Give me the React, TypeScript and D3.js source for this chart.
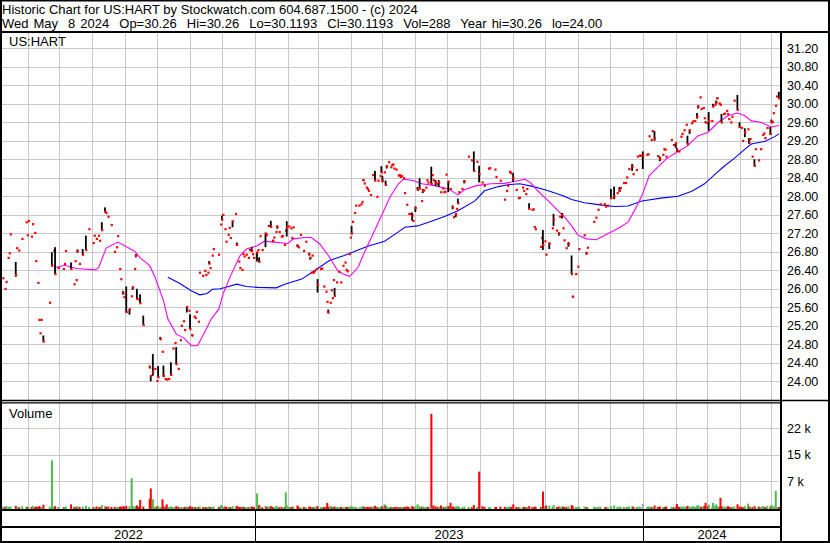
import React from "react";
import * as d3 from "d3";

// day offsets are calendar days after START
const START = new Date(2022, 4, 8);
const END = new Date(2024, 4, 9);

// [day, close, volume, high?, low?]
const trades2022: number[][] = [
  [1, 26.23, 400], [3, 26.0, 300], [4, 26.15, 500], [6, 26.67, 300], [7, 26.77, 200],
  [8, 27.18, 400], [13, 26.3, 600, 26.58, 26.26], [14, 26.88, 300], [16, 26.83, 200],
  [19, 27.08, 500], [23, 27.44, 400], [24, 27.16, 300], [25, 27.47, 200], [28, 27.13, 300],
  [29, 27.4, 600], [31, 27.21, 200], [32, 26.6, 400], [34, 26.13, 300], [35, 25.33, 500],
  [36, 25.04, 300], [37, 25.33, 200], [39, 24.86, 900, 24.99, 24.86], [45, 25.7, 300],
  [47, 26.5, 13100, 26.79, 26.49], [49, 26.82, 400], [50, 26.32, 500, 26.9, 26.32],
  [53, 26.45, 300], [58, 26.43, 200], [59, 26.54, 300], [60, 26.82, 400],
  [65, 26.43, 1000, 26.57, 26.43], [68, 26.1, 300], [69, 26.6, 400], [70, 26.19, 200],
  [71, 26.82, 500, 26.85, 26.78], [73, 26.54, 300], [76, 26.74, 400, 26.86, 26.72],
  [79, 26.84, 600, 27.15, 26.84], [82, 27.29, 300], [86, 26.99, 200], [87, 27.15, 300],
  [89, 27.08, 400], [91, 27.15, 200], [92, 27.04, 300], [94, 27.27, 800, 27.44, 27.27],
  [97, 27.67, 500, 27.76, 27.65], [98, 27.64, 300], [100, 27.56, 400], [103, 27.38, 300],
  [106, 26.8, 300], [108, 26.9, 200], [109, 27.14, 300], [111, 26.43, 400], [112, 26.21, 300],
  [114, 25.9, 500, 25.95, 25.88], [115, 25.82, 300], [117, 25.5, 600, 26.05, 25.49],
  [120, 25.56, 500, 25.56, 25.44], [122, 25.84, 8200], [123, 26.03, 600, 26.05, 25.98],
  [125, 26.43, 300], [126, 26.72, 500, 26.75, 26.68], [127, 25.78, 700, 26.0, 25.78],
  [129, 25.77, 300], [130, 25.69, 2200, 25.88, 25.69], [133, 25.22, 400, 25.42, 25.22],
  [139, 24.3, 2500, 24.34, 24.3], [140, 24.12, 5400, 24.12, 24.0], [142, 24.2, 2400, 24.59, 24.12],
  [144, 24.27, 300], [146, 24.01, 500], [147, 24.09, 400, 24.33, 24.09],
  [149, 24.91, 300, 24.96, 24.91], [151, 24.64, 2400], [152, 24.12, 400, 24.34, 24.09],
  [154, 24.05, 300, 24.07, 24.03], [155, 24.04, 1000], [157, 24.05, 300],
  [159, 24.14, 400, 24.41, 24.14], [161, 24.71, 300], [163, 24.83, 200],
  [164, 24.37, 500, 24.74, 24.37], [166, 24.27, 300], [168, 24.89, 200], [169, 25.2, 300],
  [171, 25.3, 200], [172, 25.11, 300], [174, 25.61, 400, 25.61, 25.49], [176, 25.53, 200],
  [177, 25.13, 500, 25.45, 25.13], [179, 24.99, 300, 25.02, 24.98], [181, 25.4, 200],
  [182, 25.37, 300], [183, 25.5, 200], [185, 25.29, 300], [186, 26.35, 400], [189, 26.28, 200],
  [191, 26.39, 300], [192, 26.3, 200], [194, 26.35, 300], [195, 26.55, 400, 26.6, 26.53],
  [196, 26.45, 200], [198, 26.72, 300], [199, 26.86, 400], [204, 26.74, 300], [206, 27.39, 800],
  [207, 27.5, 600, 27.58, 27.48], [208, 27.6, 300], [210, 27.29, 400], [211, 27.02, 300],
  [213, 27.17, 200], [214, 27.32, 300], [215, 27.1, 200], [217, 27.46, 500, 27.47, 27.33],
  [220, 27.62, 300], [221, 26.95, 600, 27.0, 26.93], [223, 26.59, 300], [224, 26.45, 200],
  [226, 26.41, 300], [227, 26.75, 400], [228, 26.7, 200], [230, 26.74, 300], [232, 26.67, 200],
  [233, 26.84, 300], [235, 26.82, 400, 26.9, 26.8], [236, 26.75, 200], [237, 26.67, 300],
];

const trades2023: number[][] = [
  [240, 26.79, 4000, 26.79, 26.59], [241, 26.84, 300], [242, 26.59, 800, 26.68, 26.57],
  [243, 27.14, 300], [245, 26.84, 200], [248, 27.2, 600, 27.2, 26.9], [249, 27.16, 300],
  [251, 27.36, 400, 27.38, 27.34], [253, 27.34, 500, 27.47, 27.34], [255, 27.04, 300, 27.06, 27.02],
  [256, 27.11, 200], [258, 27.23, 600], [259, 27.34, 400, 27.37, 27.3], [261, 27.23, 200],
  [263, 27.13, 300], [264, 27.14, 200], [266, 26.95, 300], [267, 27.26, 4300],
  [268, 27.33, 700, 27.46, 27.13], [270, 27.35, 300], [272, 27.31, 200], [273, 27.1, 300],
  [274, 27.33, 400], [278, 26.93, 700, 26.96, 26.9], [279, 26.9, 300], [281, 27.17, 200],
  [284, 26.82, 300], [286, 27.02, 200], [289, 26.75, 400, 26.78, 26.72],
  [290, 26.67, 300, 26.69, 26.63], [291, 26.35, 200], [292, 26.72, 300], [293, 26.35, 200],
  [294, 26.38, 300], [296, 26.43, 500], [297, 26.09, 400, 26.21, 25.92], [300, 26.43, 300],
  [301, 26.44, 200], [303, 26.05, 300], [305, 25.94, 200], [306, 25.72, 1400],
  [307, 25.49, 300, 25.55, 25.47], [309, 25.7, 600], [310, 25.97, 200], [311, 25.8, 300],
  [312, 26.19, 200], [313, 25.85, 400, 26.02, 25.85], [315, 26.14, 300], [317, 26.37, 200],
  [319, 26.14, 300], [321, 26.5, 200], [323, 26.57, 300], [324, 26.41, 200], [325, 26.38, 300],
  [327, 26.75, 400], [328, 27.11, 300], [329, 27.2, 500, 27.36, 27.18], [330, 27.45, 300],
  [332, 27.64, 200], [333, 27.8, 300], [336, 27.8, 200], [338, 27.83, 300], [339, 27.88, 400],
  [340, 28.35, 500, 28.37, 28.33], [341, 28.28, 300], [343, 28.19, 200], [344, 28.16, 300],
  [345, 28.12, 200], [347, 28.03, 300], [349, 28.46, 400], [351, 28.34, 600, 28.55, 28.34],
  [353, 27.99, 300], [354, 28.34, 200], [356, 28.44, 300], [357, 28.52, 500, 28.65, 28.52],
  [358, 28.34, 400, 28.44, 28.3], [360, 28.52, 1000], [361, 28.25, 600, 28.34, 28.23],
  [362, 28.65, 300, 28.67, 28.6], [364, 28.74, 200], [366, 28.63, 300], [367, 28.68, 200],
  [368, 28.69, 300], [369, 28.6, 200], [371, 28.58, 300], [373, 28.45, 200], [374, 28.46, 300],
  [375, 28.42, 200], [376, 28.44, 300], [378, 28.4, 200], [379, 28.07, 300], [381, 27.82, 400],
  [383, 27.62, 300], [384, 27.62, 200], [386, 27.58, 500, 27.65, 27.47], [387, 27.47, 300],
  [389, 27.75, 400, 27.78, 27.66], [391, 28.14, 1000, 28.2, 28.14], [393, 28.17, 500, 28.39, 28.15],
  [395, 27.9, 300], [396, 28.12, 400, 28.16, 28.07], [397, 28.13, 200], [399, 28.19, 300],
  [400, 28.35, 200], [401, 28.3, 300], [404, 28.27, 25900, 28.64, 28.27], [405, 28.46, 300],
  [406, 28.35, 700], [408, 28.3, 400, 28.35, 28.22], [410, 28.27, 300], [411, 28.3, 400, 28.35, 28.2],
  [413, 28.09, 700], [415, 28.17, 300], [416, 28.09, 200], [417, 28.1, 300], [418, 28.47, 400],
  [420, 28.32, 500, 28.32, 28.09], [422, 28.16, 1400], [424, 27.76, 400, 27.8, 27.72],
  [425, 27.55, 300], [427, 27.62, 400, 27.62, 27.55], [428, 27.73, 300],
  [429, 27.85, 500, 27.95, 27.85], [430, 28.09, 300], [433, 28.16, 200],
  [435, 28.32, 400, 28.35, 28.28], [439, 28.86, 300], [442, 28.78, 200],
  [444, 28.55, 800, 28.97, 28.55], [447, 28.75, 300], [449, 28.48, 10000, 28.66, 28.3],
  [452, 28.3, 500], [454, 28.23, 300], [458, 28.6, 200], [459, 28.61, 300], [464, 28.58, 200],
  [465, 28.42, 300], [469, 28.34, 400], [473, 27.93, 300], [475, 28.12, 200], [476, 28.23, 300],
  [478, 28.53, 400, 28.55, 28.5], [479, 28.5, 200], [481, 28.39, 1000, 28.5, 28.31],
  [484, 28.14, 300], [486, 27.96, 200], [487, 27.97, 300], [490, 28.19, 200], [491, 28.12, 300],
  [493, 28.05, 200], [494, 28.16, 300], [496, 27.73, 500, 27.85, 27.73], [499, 27.71, 300],
  [500, 27.72, 200], [501, 27.34, 300], [502, 27.29, 400], [507, 26.91, 300], [508, 27.1, 200],
  [509, 26.95, 4500, 27.27, 26.84], [511, 27.03, 400], [512, 26.74, 700],
  [515, 26.98, 600, 27.0, 26.86], [518, 27.31, 300], [519, 27.5, 800, 27.62, 27.36],
  [522, 27.26, 300], [524, 27.2, 400, 27.22, 27.15], [525, 27.56, 200],
  [527, 27.6, 500, 27.64, 27.52], [528, 27.31, 300], [529, 27.05, 200], [531, 26.88, 300],
  [533, 26.97, 400, 27.01, 26.91], [536, 26.32, 800, 26.72, 26.32], [537, 25.83, 500, 25.85, 25.82],
  [540, 26.32, 300], [542, 26.48, 200], [543, 26.86, 300], [548, 27.16, 400],
  [550, 26.77, 300, 26.8, 26.74], [551, 26.89, 200], [557, 27.45, 300], [559, 27.54, 200],
  [561, 27.71, 300], [563, 27.83, 400], [567, 27.83, 200], [568, 27.78, 300], [570, 27.8, 200],
  [573, 27.96, 400, 28.16, 27.96], [576, 28.0, 700, 28.21, 27.94], [579, 28.07, 300],
  [581, 28.12, 400, 28.2, 28.1], [582, 28.18, 200], [585, 28.29, 300], [587, 28.29, 200],
  [588, 28.41, 300], [590, 28.59, 400], [593, 28.65, 500, 28.7, 28.55], [594, 28.48, 300],
  [597, 28.57, 200], [598, 28.86, 300], [600, 28.88, 400], [601, 28.88, 200],
];

const trades2024: number[][] = [
  [603, 28.88, 1100, 28.97, 28.59], [607, 28.9, 300], [608, 28.91, 200], [609, 29.3, 400],
  [611, 29.22, 300], [612, 29.41, 200], [614, 29.25, 700, 29.41, 29.2], [617, 28.87, 300],
  [619, 28.81, 400, 28.86, 28.76], [622, 28.9, 300], [623, 29.02, 200], [624, 29.01, 300],
  [625, 28.86, 400], [630, 29.22, 300], [632, 29.11, 200], [634, 29.15, 400, 29.15, 29.05],
  [635, 29.0, 1100, 29.05, 28.96], [637, 28.97, 300], [639, 29.29, 400], [640, 29.35, 300],
  [642, 29.43, 500], [644, 29.55, 300], [645, 29.13, 600, 29.31, 29.13],
  [647, 29.43, 400, 29.44, 29.35], [649, 29.58, 300], [650, 29.62, 500], [652, 29.63, 300],
  [654, 29.72, 600, 29.8, 29.68], [655, 29.94, 800, 29.97, 29.9], [657, 30.14, 400],
  [658, 29.89, 300], [660, 29.91, 500], [661, 29.69, 600], [662, 29.6, 1400, 29.62, 29.58],
  [664, 29.58, 500], [665, 29.63, 900, 29.82, 29.42], [668, 29.63, 400],
  [669, 29.94, 1400, 30.0, 29.94], [671, 29.98, 600], [672, 30.03, 1000, 30.07, 30.0],
  [673, 30.12, 500, 30.14, 30.1], [675, 30.01, 300], [676, 29.98, 2800],
  [677, 29.6, 500, 29.78, 29.6], [679, 29.78, 300], [680, 29.79, 400], [682, 29.85, 300],
  [683, 29.78, 500], [684, 29.67, 300], [686, 29.6, 200], [687, 29.72, 300], [689, 30.07, 400],
  [692, 29.87, 1000, 30.19, 29.87], [694, 29.5, 400, 29.6, 29.48], [696, 29.48, 300],
  [697, 29.2, 200], [699, 29.38, 500, 29.47, 29.28], [702, 29.45, 1200],
  [703, 29.17, 400, 29.26, 29.13], [704, 29.24, 300], [706, 28.86, 200],
  [708, 28.66, 500, 28.8, 28.66], [709, 29.02, 300], [712, 28.78, 400], [714, 29.02, 300],
  [716, 29.33, 500], [717, 29.36, 300], [718, 29.26, 200], [720, 29.48, 600],
  [723, 29.35, 400, 29.5, 29.33], [724, 29.6, 800, 29.66, 29.6], [725, 29.61, 300],
  [726, 29.8, 500], [728, 29.96, 4700], [729, 30.16, 300], [731, 30.12, 288, 30.26, 30.12],
];

// moving averages: [day, value]
const maShort: number[][] = [
  [50, 26.46], [59, 26.51], [70, 26.44], [88, 26.41], [91, 26.46], [98, 26.88], [109, 27.01],
  [117, 26.91], [125, 26.81], [130, 26.67], [139, 26.5], [144, 26.25], [152, 25.74], [156, 25.35],
  [164, 25.02], [171, 24.94], [178, 24.77], [184, 24.77], [189, 24.99], [197, 25.35], [204, 25.56],
  [208, 25.89], [215, 26.28], [224, 26.72], [230, 26.86], [240, 26.93], [247, 27.03], [255, 27.01],
  [269, 26.98], [274, 27.08], [285, 27.11], [291, 27.11], [299, 26.97], [307, 26.72], [316, 26.39],
  [321, 26.32], [327, 26.27], [335, 26.46], [341, 26.79], [349, 27.18], [357, 27.58], [365, 27.98],
  [373, 28.27], [378, 28.37], [387, 28.34], [395, 28.27], [407, 28.23], [420, 28.16], [429, 28.03],
  [435, 28.14], [446, 28.23], [460, 28.27], [473, 28.28], [482, 28.32], [492, 28.37], [498, 28.28],
  [504, 28.12], [514, 27.9], [523, 27.69], [529, 27.56], [536, 27.36], [542, 27.16], [550, 27.08],
  [559, 27.06], [569, 27.18], [580, 27.31], [589, 27.44], [595, 27.69], [602, 28.01], [609, 28.45],
  [617, 28.63], [625, 28.81], [636, 28.97], [645, 29.09], [655, 29.31], [664, 29.38], [674, 29.6],
  [683, 29.74], [692, 29.8], [699, 29.74], [705, 29.63], [714, 29.6], [724, 29.5], [731, 29.53],
];

const maLong: number[][] = [
  [156, 26.25], [167, 26.12], [178, 25.96], [186, 25.87], [193, 25.9], [198, 25.99], [205, 26.0],
  [210, 26.03], [221, 26.1], [230, 26.05], [241, 26.03], [258, 26.02], [266, 26.1], [282, 26.21],
  [294, 26.39], [308, 26.61], [322, 26.72], [344, 26.92], [360, 27.03], [373, 27.23], [379, 27.33],
  [391, 27.36], [404, 27.46], [417, 27.57], [429, 27.69], [445, 27.9], [454, 28.12], [467, 28.21],
  [476, 28.25], [487, 28.27], [498, 28.22], [511, 28.14], [526, 28.03], [536, 27.93], [548, 27.86],
  [561, 27.82], [576, 27.78], [589, 27.79], [602, 27.9], [620, 27.96], [636, 28.0], [649, 28.11],
  [661, 28.27], [671, 28.48], [680, 28.66], [689, 28.82], [699, 29.02], [705, 29.13], [718, 29.19],
  [727, 29.29], [731, 29.35],
];

const priceTicks = [24.0, 24.4, 24.8, 25.2, 25.6, 26.0, 26.4, 26.8, 27.2, 27.6, 28.0, 28.4, 28.8, 29.2, 29.6, 30.0, 30.4, 30.8, 31.2];
const volTicks = [7333, 14667, 22000];
const volTickLabels = ["7 k", "15 k", "22 k"];
const years = ["2022", "2023", "2024"];

const title = "Historic Chart for US:HART by Stockwatch.com 604.687.1500 - (c) 2024";
const subtitle = "Wed May  8 2024  Op=30.26  Hi=30.26  Lo=30.1193  Cl=30.1193  Vol=288  Year hi=30.26  lo=24.00";

const FONT = "'Liberation Sans', Arial, sans-serif";
const GRID = "#c8c8c8";

const W = 830;
const H = 543;
const PLOT_R = 781;
const PRICE_TOP = 33;
const PRICE_BOT = 400;
const VOL_TOP = 403;
const VOL_BOT = 509;

export default function App() {
  const day = (d: number) => d3.timeDay.offset(START, d);
  const x = d3.scaleTime().domain([START, END]).range([2, 780]);
  const y = d3.scaleLinear().domain([24, 31.2]).range([381.3, 48.3]);
  const yv = d3.scaleLinear().domain([0, 22000]).range([508, 428]);

  const trades = [...trades2022, ...trades2023, ...trades2024];
  const months = d3.timeMonth.range(new Date(2022, 5, 1), END);
  const yearEdgesPx = [2, x(new Date(2023, 0, 1)), x(new Date(2024, 0, 1)), PLOT_R];

  const line = d3
    .line<number[]>()
    .x((d) => x(day(d[0])))
    .y((d) => y(d[1]));

  return (
    <svg
      width={W}
      height={H}
      style={{ position: "absolute", left: 0, top: 0, background: "#fff" }}
      fontFamily={FONT}
    >
      <rect x={0} y={0} width={W} height={H} fill="#fff" />

      {/* header */}
      <text x={2} y={14} fontSize={13} fill="#000" xmlSpace="preserve">
        {title}
      </text>
      <text x={2} y={27.5} fontSize={13} fill="#000" xmlSpace="preserve" wordSpacing={1.4}>
        {subtitle}
      </text>

      {/* grid: months */}
      {months.map((m, i) => (
        <g key={"m" + i}>
          <line x1={Math.round(x(m)) + 0.5} x2={Math.round(x(m)) + 0.5} y1={PRICE_TOP} y2={PRICE_BOT} stroke={GRID} />
          <line x1={Math.round(x(m)) + 0.5} x2={Math.round(x(m)) + 0.5} y1={VOL_TOP} y2={VOL_BOT} stroke={GRID} />
        </g>
      ))}
      {/* grid: price */}
      {priceTicks.map((p) => (
        <line key={"p" + p} x1={2} x2={PLOT_R} y1={Math.round(y(p)) + 0.5} y2={Math.round(y(p)) + 0.5} stroke={GRID} />
      ))}
      {/* grid: volume */}
      {volTicks.map((v) => (
        <line key={"v" + v} x1={2} x2={PLOT_R} y1={Math.round(yv(v)) + 0.5} y2={Math.round(yv(v)) + 0.5} stroke={GRID} />
      ))}

      {/* volume bars */}
      {trades.map((t, i) => {
        const prev = i > 0 ? trades[i - 1][1] : t[1];
        const color = t[1] > prev ? "#4cbb4c" : t[1] < prev ? "#ff0000" : "#a8a8a8";
        const top = Math.min(yv(t[2]), VOL_BOT - 1.5);
        return (
          <rect key={"vb" + i} x={x(day(t[0])) - 1} y={top} width={2} height={VOL_BOT - top} fill={color} />
        );
      })}

      {/* moving averages */}
      <path d={line(maLong) ?? ""} fill="none" stroke="#0000ff" strokeWidth={1.1} />
      <path d={line(maShort) ?? ""} fill="none" stroke="#ff00ff" strokeWidth={1.1} />

      {/* price bars */}
      {trades.map((t, i) => {
        const cx = x(day(t[0]));
        return (
          <g key={"pb" + i}>
            {t.length > 3 && (
              <rect x={cx - 1} y={y(t[3])} width={1.8} height={Math.max(1, y(t[4]) - y(t[3]))} fill="#000" />
            )}
            <rect x={cx - 0.8} y={y(t[1]) - 1} width={2.2} height={2.2} fill="#ff0000" />
          </g>
        );
      })}

      {/* panel labels */}
      <text x={9} y={45.5} fontSize={13} fill="#000">US:HART</text>
      <text x={9} y={418} fontSize={13} fill="#000">Volume</text>

      {/* right axis */}
      {priceTicks.map((p) => (
        <text key={"pl" + p} x={787} y={y(p)} dy="0.36em" fontSize={12.5} fill="#000">
          {p.toFixed(2)}
        </text>
      ))}
      {volTicks.map((v, i) => (
        <text key={"vl" + v} x={787} y={yv(v)} dy="0.36em" fontSize={12.5} fill="#000">
          {volTickLabels[i]}
        </text>
      ))}

      {/* year band */}
      {years.map((yr, i) => (
        <text
          key={yr}
          x={(yearEdgesPx[i] + yearEdgesPx[i + 1]) / 2}
          y={539}
          fontSize={13}
          textAnchor="middle"
          fill="#000"
        >
          {yr}
        </text>
      ))}
      {[yearEdgesPx[1], yearEdgesPx[2]].map((ex, i) => (
        <line key={"ye" + i} x1={Math.round(ex) + 0.5} x2={Math.round(ex) + 0.5} y1={VOL_BOT} y2={H} stroke="#000" />
      ))}

      {/* frame */}
      <line x1={0} x2={W} y1={32} y2={32} stroke="#000" strokeWidth={2} />
      <line x1={0} x2={W} y1={400.5} y2={400.5} stroke="#000" strokeWidth={1.5} />
      <line x1={0} x2={PLOT_R} y1={402.8} y2={402.8} stroke="#000" strokeWidth={1.2} />
      <line x1={0} x2={PLOT_R} y1={510} y2={510} stroke="#000" strokeWidth={2} />
      <line x1={0} x2={PLOT_R} y1={527} y2={527} stroke="#000" strokeWidth={2} />
      <line x1={PLOT_R} x2={PLOT_R} y1={32} y2={H} stroke="#000" strokeWidth={2} />
      <rect x={1} y={0.5} width={W - 2} height={H - 1.5} fill="none" stroke="#000" strokeWidth={2} />
    </svg>
  );
}
